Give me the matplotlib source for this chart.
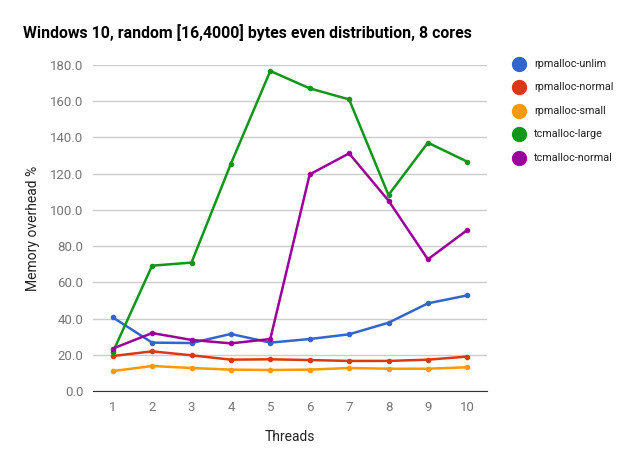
import matplotlib
matplotlib.use("Agg")
import matplotlib.pyplot as plt
from matplotlib.lines import Line2D

plt.rcParams['font.family'] = ['Roboto', 'DejaVu Sans']

threads = [1, 2, 3, 4, 5, 6, 7, 8, 9, 10]
rp_unlim = [40.7, 26.7, 26.5, 31.5, 26.7, 28.7, 31.3, 37.7, 48.4, 52.8]
rp_normal = [19.3, 21.9, 19.7, 17.3, 17.5, 17.1, 16.6, 16.6, 17.3, 19.0]
rp_small = [11.0, 13.8, 12.7, 11.8, 11.6, 11.8, 12.7, 12.3, 12.3, 13.1]
tc_large = [21.3, 69.2, 70.9, 125.5, 176.7, 167.1, 161.0, 108.2, 137.1, 126.6]
tc_normal = [23.4, 32.0, 28.2, 26.3, 28.7, 119.6, 131.2, 105.1, 72.7, 88.9]

names = ['rpmalloc-unlim', 'rpmalloc-normal', 'rpmalloc-small',
         'tcmalloc-large', 'tcmalloc-normal']
colors = ['#3366cc', '#dc3912', '#ff9900', '#109618', '#990099']
series = [rp_unlim, rp_normal, rp_small, tc_large, tc_normal]
yticks = [0, 20, 40, 60, 80, 100, 120, 140, 160, 180]

fig = plt.figure(figsize=(6.29, 4.69), dpi=100)
ax = fig.add_axes([93/629, 1-391/469, (487-93)/629, (391-65)/469])

for s, c, n in zip(series, colors, names):
    ax.plot(threads, s, color=c, lw=1.8, marker='o', ms=3, label=n, zorder=3)

ax.set_xlim(0.5, 10.5)
ax.set_ylim(0, 180)
ax.set_xticks(threads)
ax.set_yticks(yticks)
ax.set_yticklabels(['%.1f' % v for v in yticks])
ax.grid(axis='y', color='#cccccc', lw=1)
ax.set_axisbelow(True)
for sp in ['top', 'right', 'left']:
    ax.spines[sp].set_visible(False)
ax.spines['bottom'].set_color('#333333')
ax.tick_params(length=0, colors='#757575', labelsize=9.5, pad=7)
ax.set_xlabel('Threads', fontsize=10, color='#222222', labelpad=12)
ax.set_ylabel('Memory overhead %', fontsize=10, color='#222222', labelpad=7)

fig.text(23/629, 1-33/469, 'Windows 10, random [16,4000] bytes even distribution, 8 cores',
         fontsize=11.4, fontweight='bold', color='#000000', va='center')

for i, (c, n) in enumerate(zip(colors, names)):
    y = 1 - (64 + i*23.4)/469
    fig.lines.append(Line2D([519/629], [y], marker='o', ms=10, color=c,
                            transform=fig.transFigure))
    fig.text(534/629, y, n, fontsize=7.8, color='#222222', va='center')

fig.savefig('out.png', dpi=100)
